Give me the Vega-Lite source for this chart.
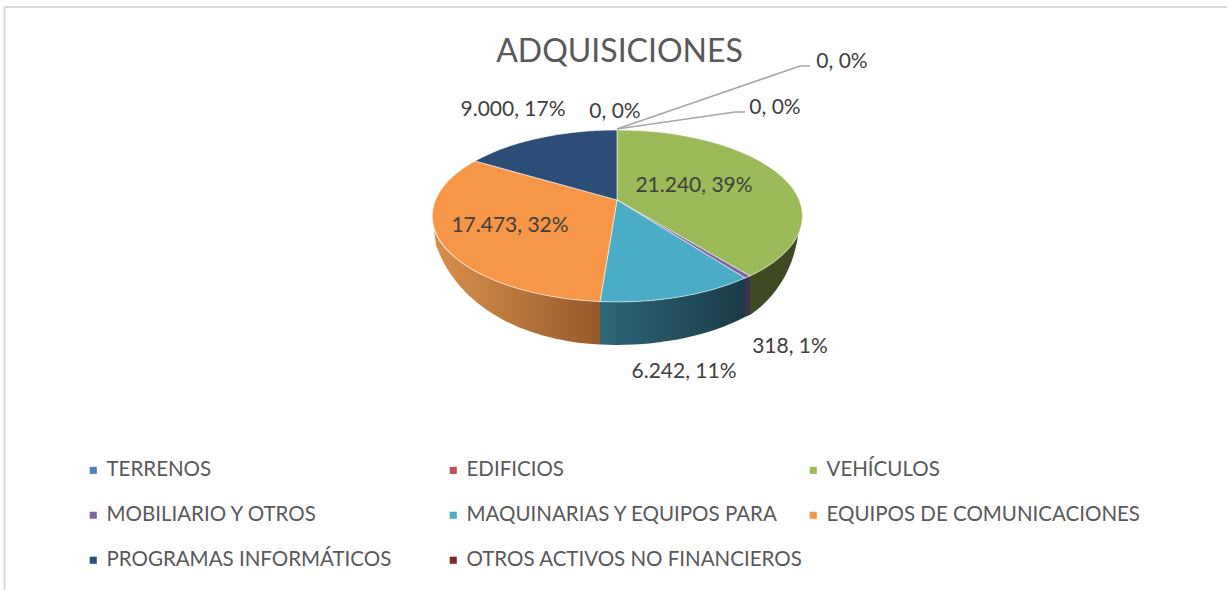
{"$schema":"https://vega.github.io/schema/vega-lite/v6.json","width":1227,"height":590,"padding":0,"autosize":{"type":"none"},"background":"white","config":{"view":{"stroke":null},"font":"Lato"},
"title":{"text":"ADQUISICIONES","font":"Lato","fontSize":32,"fontWeight":"normal","color":"#595959","anchor":"middle","frame":"group","dx":6,"offset":-69},
"data":{"values":[
{"categoria":"TERRENOS","valor":0,"orden":1,"etiqueta":"0, 0%"},
{"categoria":"EDIFICIOS","valor":0,"orden":2,"etiqueta":"0, 0%"},
{"categoria":"VEHÍCULOS","valor":21240,"orden":3,"etiqueta":"21.240, 39%"},
{"categoria":"MOBILIARIO Y OTROS","valor":318,"orden":4,"etiqueta":"318, 1%"},
{"categoria":"MAQUINARIAS Y EQUIPOS PARA","valor":6242,"orden":5,"etiqueta":"6.242, 11%"},
{"categoria":"EQUIPOS DE COMUNICACIONES","valor":17473,"orden":6,"etiqueta":"17.473, 32%"},
{"categoria":"PROGRAMAS INFORMÁTICOS","valor":9000,"orden":7,"etiqueta":"9.000, 17%"},
{"categoria":"OTROS ACTIVOS NO FINANCIEROS","valor":0,"orden":8,"etiqueta":"0, 0%"}]},
"layer":[
{"transform":[{"filter":"datum.orden==1"}],"mark":{"type":"point","filled":false,"size":4,"stroke":"#d9d9d9","strokeWidth":2,"opacity":1},"encoding":{"x":{"field":"orden","type":"quantitative","axis":null,"scale":{"domain":[1,8],"range":[617,617]}},"y":{"field":"orden","type":"quantitative","axis":null,"scale":{"domain":[1,8],"range":[200,200]}},"shape":{"value":"M-612.5 390L-612.5 -193L610 -193"}}},
{"transform":[{"filter":"datum.orden==6"}],"mark":{"type":"point","filled":true,"size":4,"opacity":1,"fill":{"gradient":"linear","x1":0,"y1":0,"x2":1,"y2":0,"stops":[{"offset":0,"color":"#d98f4b"},{"offset":0.55,"color":"#b5733a"},{"offset":1,"color":"#96592a"}]}},"encoding":{"x":{"field":"orden","type":"quantitative","axis":null,"scale":{"domain":[1,8],"range":[617,617]}},"y":{"field":"orden","type":"quantitative","axis":null,"scale":{"domain":[1,8],"range":[200,200]}},"shape":{"value":"M-183 30A185 86 0 0 0 -17 101.6L-17 144.5C-75 142 -155 118 -181 45Z"}}},
{"transform":[{"filter":"datum.orden==5"}],"mark":{"type":"point","filled":true,"size":4,"opacity":1,"fill":{"gradient":"linear","x1":0,"y1":0,"x2":1,"y2":0,"stops":[{"offset":0,"color":"#2f6678"},{"offset":1,"color":"#1a3c47"}]}},"encoding":{"x":{"field":"orden","type":"quantitative","axis":null,"scale":{"domain":[1,8],"range":[617,617]}},"y":{"field":"orden","type":"quantitative","axis":null,"scale":{"domain":[1,8],"range":[200,200]}},"shape":{"value":"M-17 101.6A185 86 0 0 0 128 78L128 117A180 93 0 0 1 -17 144.6Z"}}},
{"transform":[{"filter":"datum.orden==4"}],"mark":{"type":"point","filled":true,"size":4,"opacity":1,"fill":"#3f2f50"},"encoding":{"x":{"field":"orden","type":"quantitative","axis":null,"scale":{"domain":[1,8],"range":[617,617]}},"y":{"field":"orden","type":"quantitative","axis":null,"scale":{"domain":[1,8],"range":[200,200]}},"shape":{"value":"M128 78A185 86 0 0 0 133 76L133 115L128 117Z"}}},
{"transform":[{"filter":"datum.orden==3"}],"mark":{"type":"point","filled":true,"size":4,"opacity":1,"fill":"#3e4b22"},"encoding":{"x":{"field":"orden","type":"quantitative","axis":null,"scale":{"domain":[1,8],"range":[617,617]}},"y":{"field":"orden","type":"quantitative","axis":null,"scale":{"domain":[1,8],"range":[200,200]}},"shape":{"value":"M133 76A185 86 0 0 0 183 30L181 36C175 75 155 100 133 115Z"}}},
{"transform":[{"filter":"datum.valor>0"}],"mark":{"type":"point","filled":true,"size":4,"opacity":1,"stroke":"#ffffff","strokeWidth":0.8,"strokeOpacity":0.7},"encoding":{"x":{"field":"orden","type":"quantitative","axis":null,"scale":{"domain":[1,8],"range":[617,617]}},"y":{"field":"orden","type":"quantitative","axis":null,"scale":{"domain":[1,8],"range":[200,200]}},
"shape":{"field":"categoria","type":"nominal","legend":null,"scale":{"domain":["VEHÍCULOS","MOBILIARIO Y OTROS","MAQUINARIAS Y EQUIPOS PARA","EQUIPOS DE COMUNICACIONES","PROGRAMAS INFORMÁTICOS"],"range":["M0 0L0 -70A185 86 0 0 1 133 76Z","M0 0L133 76A185 86 0 0 1 128 78Z","M0 0L128 78A185 86 0 0 1 -17 101.6Z","M0 0L-17 101.6A185 86 0 0 1 -142 -39Z","M0 0L-142 -39A185 86 0 0 1 0 -70Z"]}},
"color":{"field":"categoria","type":"nominal","sort":null,"scale":{"domain":["TERRENOS","EDIFICIOS","VEHÍCULOS","MOBILIARIO Y OTROS","MAQUINARIAS Y EQUIPOS PARA","EQUIPOS DE COMUNICACIONES","PROGRAMAS INFORMÁTICOS","OTROS ACTIVOS NO FINANCIEROS"],"range":["#4f81bd","#c0504d","#9bbb59","#8064a2","#4bacc6","#f79646","#2c4d75","#772c2a"]},
"legend":{"title":null,"orient":"none","legendX":83,"legendY":460,"direction":"horizontal","columns":3,"columnPadding":-15,"rowPadding":24,"symbolType":"square","symbolSize":50,"symbolStrokeWidth":0,"symbolOpacity":1,"labelFont":"Lato","labelFontSize":20.5,"labelColor":"#595959","labelLimit":400,"labelOffset":3,"gridAlign":"all"}}}},
{"transform":[{"filter":"datum.orden<=2"}],"mark":{"type":"point","filled":false,"size":4,"opacity":1,"stroke":"#a6a6a6","strokeWidth":1.5},"encoding":{"x":{"field":"orden","type":"quantitative","axis":null,"scale":{"domain":[1,8],"range":[617,617]}},"y":{"field":"orden","type":"quantitative","axis":null,"scale":{"domain":[1,8],"range":[200,200]}},"shape":{"field":"categoria","type":"nominal","legend":null,"scale":{"domain":["TERRENOS","EDIFICIOS"],"range":["M0 -71L183 -134L193 -134","M0 -71L118 -88L128 -88"]}}}},
{"mark":{"type":"text","font":"Lato","fontSize":21,"color":"#404040","align":"center","baseline":"middle"},"encoding":{"text":{"field":"etiqueta"},"x":{"field":"orden","type":"quantitative","axis":null,"scale":{"domain":[1,2,3,4,5,6,7,8],"range":[842,775,694,790,684,510,513,615]}},"y":{"field":"orden","type":"quantitative","axis":null,"scale":{"domain":[1,2,3,4,5,6,7,8],"range":[62,108,186,347,372,226,110,112]}}}}
],
"resolve":{"scale":{"x":"independent","y":"independent","shape":"independent"}}}
